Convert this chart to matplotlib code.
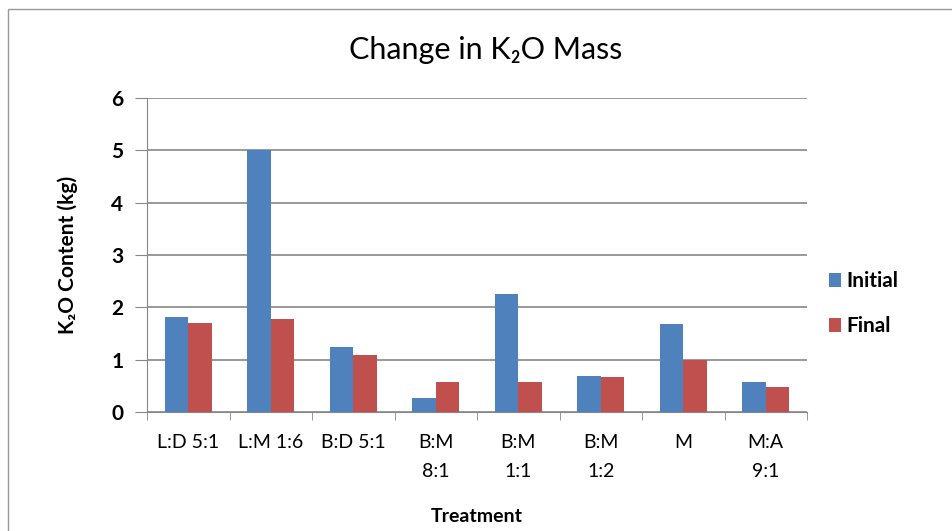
import numpy as np
import matplotlib.pyplot as plt
from matplotlib.patches import Rectangle

plt.rcParams['font.family'] = ['Lato', 'DejaVu Sans']

treatments = ['L:D 5:1', 'L:M 1:6', 'B:D 5:1', 'B:M\n8:1', 'B:M\n1:1', 'B:M\n1:2', 'M', 'M:A\n9:1']
initial = [1.81, 5.0, 1.25, 0.27, 2.26, 0.69, 1.68, 0.58]
final = [1.70, 1.78, 1.08, 0.58, 0.58, 0.67, 0.99, 0.47]

blue = '#4F81BD'
red = '#C0504D'
grey = '#878787'

fig = plt.figure(figsize=(9.53, 5.31), dpi=100)
ax = fig.add_axes([0.1543, 0.2241, 0.6925, 0.5913])

x = np.arange(len(treatments))
w = 0.285
ax.bar(x - w / 2, initial, w, color=blue, label='Initial', zorder=3)
ax.bar(x + w / 2, final, w, color=red, label='Final', zorder=3)

ax.set_xlim(-0.5, len(treatments) - 0.5)
ax.set_ylim(0, 6)
ax.set_yticks(range(7))
ax.yaxis.grid(True, color=grey, linewidth=1.2, zorder=0)
for s in ['top', 'right']:
    ax.spines[s].set_visible(False)
ax.spines['left'].set_color(grey)
ax.spines['bottom'].set_color(grey)
ax.tick_params(axis='y', length=9, color=grey, labelsize=15, pad=8)
for lab in ax.get_yticklabels():
    lab.set_fontweight('bold')

# category labels centred, tick marks between categories
ax.set_xticks(x)
ax.set_xticklabels(treatments, fontsize=14, linespacing=1.85, va='top')
ax.tick_params(axis='x', which='major', length=0, pad=16)
ax.set_xticks(np.arange(-0.5, len(treatments)), minor=True)
ax.tick_params(axis='x', which='minor', length=6, color=grey)

ax.set_ylabel('K₂O Content (kg)', fontsize=15, fontweight='bold', labelpad=24)
ax.set_xlabel('Treatment', fontsize=14, fontweight='bold', labelpad=20)

fig.text(0.510, 0.905, 'Change in K₂O Mass', fontsize=22, ha='center', va='center')

ax.legend(loc='center left', bbox_to_anchor=(1.005, 0.345), frameon=False,
          prop={'size': 15, 'weight': 'bold'}, handlelength=0.55,
          handleheight=0.7, labelspacing=1.2, handletextpad=0.3)

# outer chart border
fig.patches.append(Rectangle((8 / 953, -0.1), 1.2, 1 - 9 / 531 + 0.1,
                             transform=fig.transFigure, fill=False,
                             edgecolor='#999999', linewidth=1))

fig.savefig('out.png', dpi=100)
